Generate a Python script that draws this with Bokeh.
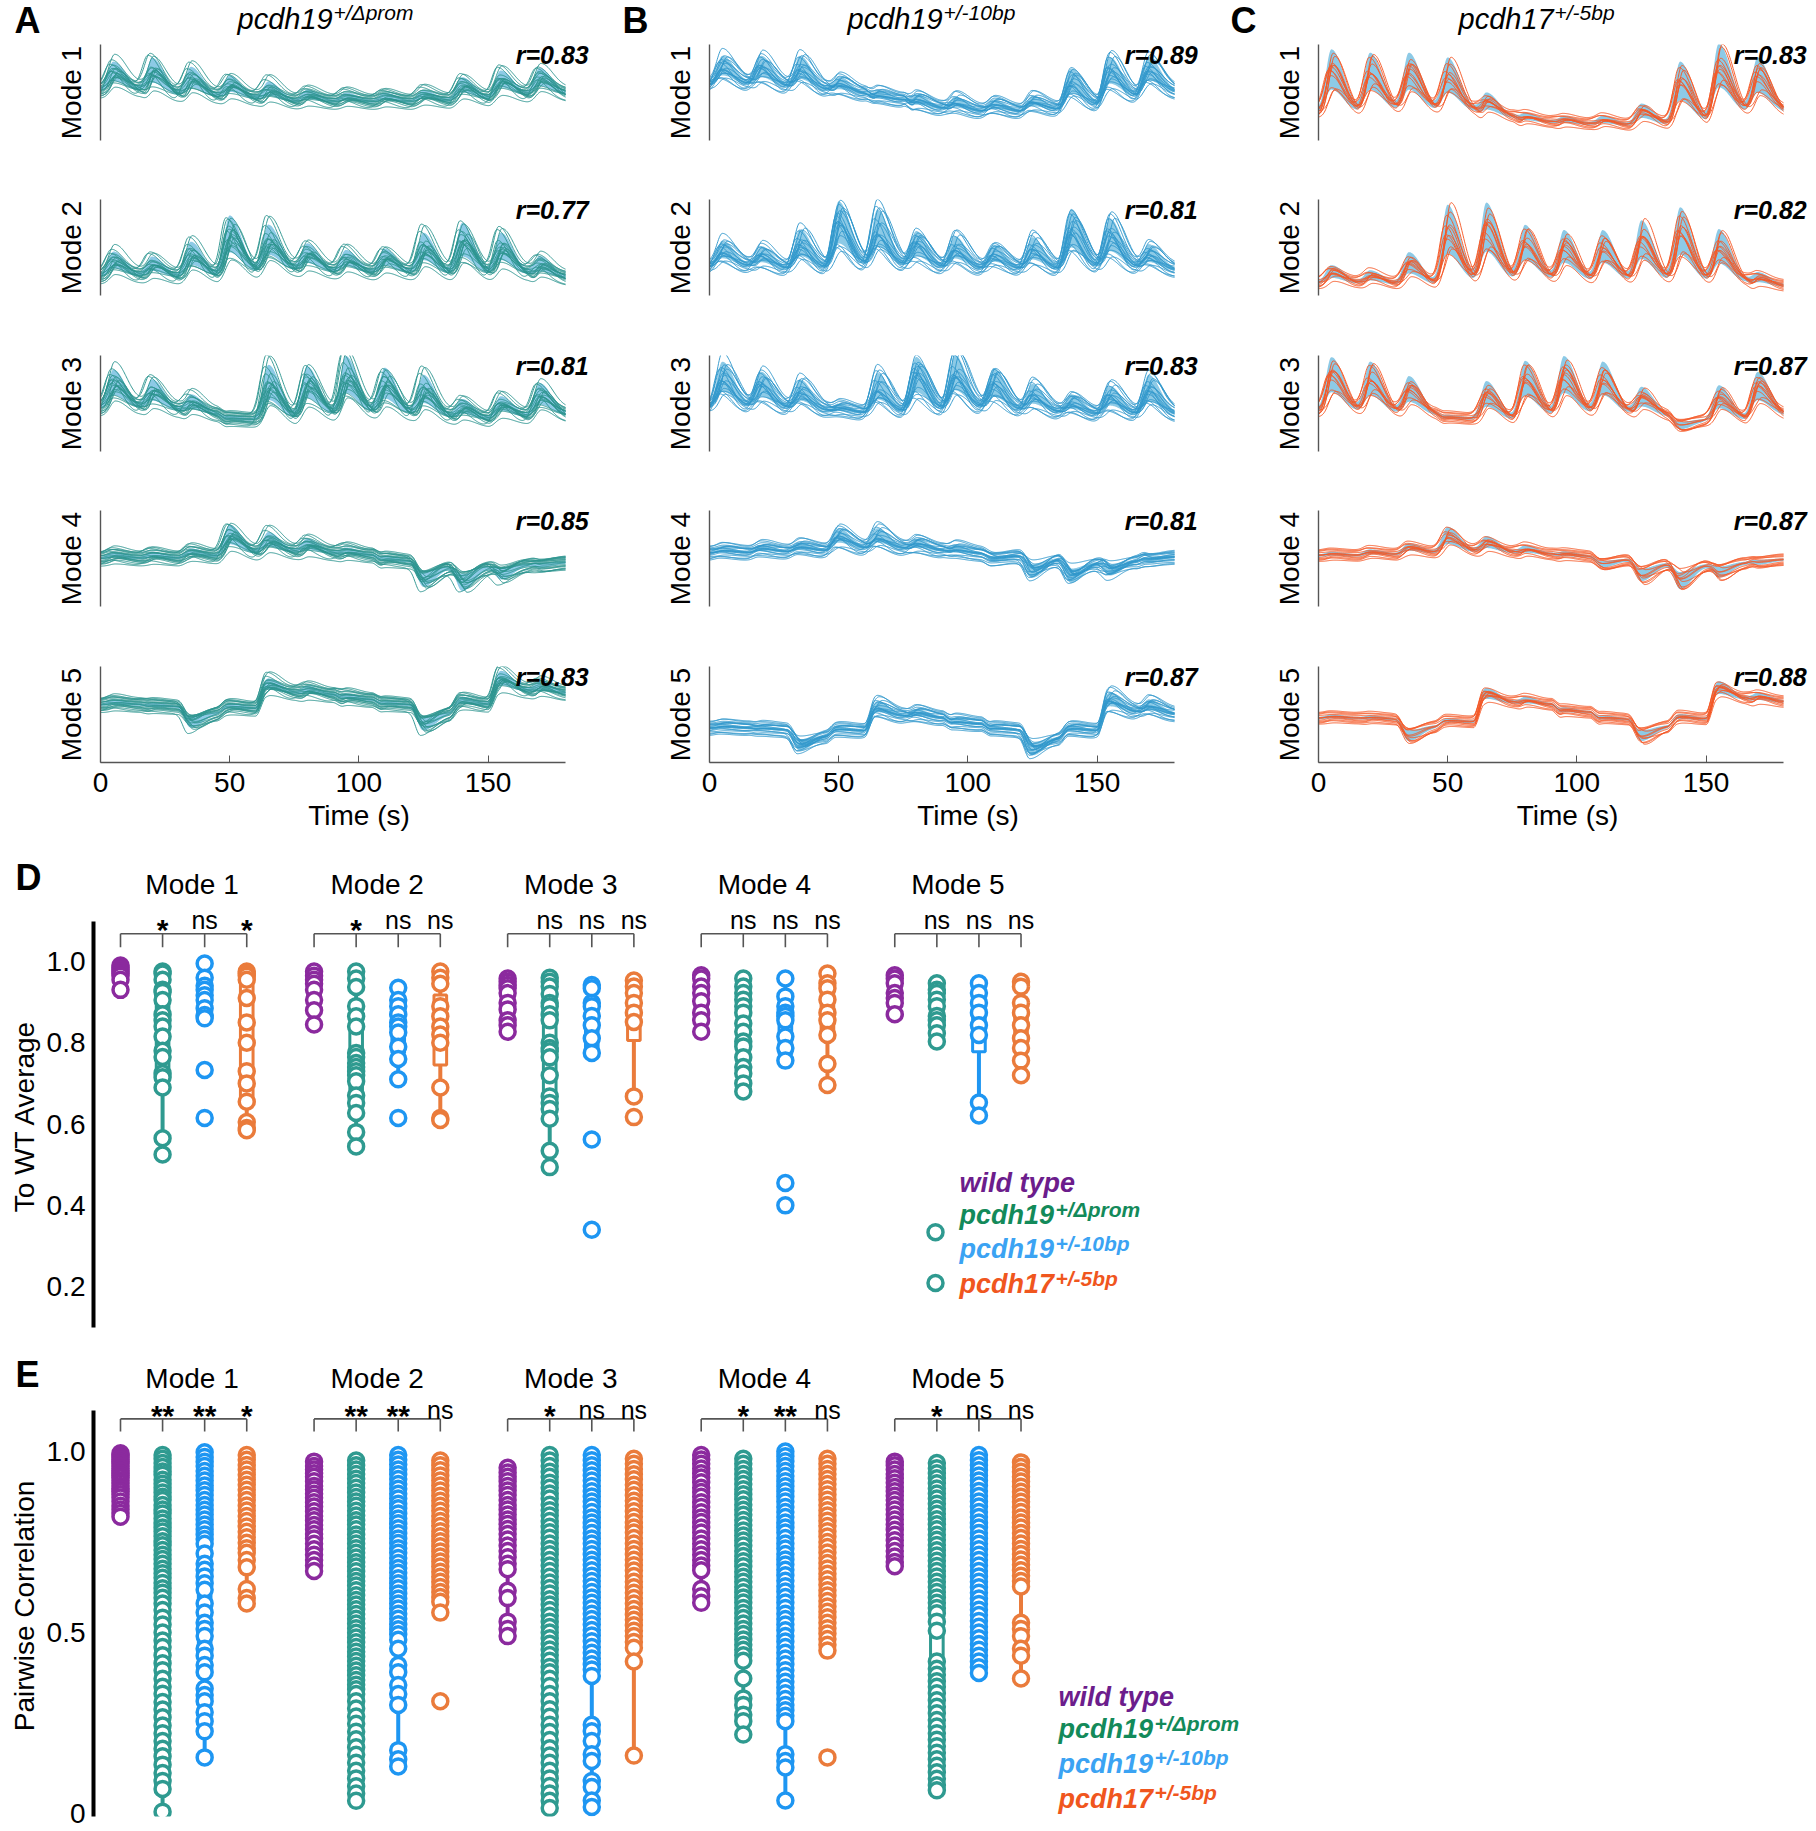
import numpy as np
from bokeh.plotting import figure
from bokeh.layouts import column, row
from bokeh.models import Label, FixedTicker, Range1d, PrintfTickFormatter
from bokeh.embed import file_html
from bokeh.resources import INLINE

FONT = "Liberation Sans"

# ================= Panels A-C : mode time courses =================
time_ticks = [0, 50, 100, 150]
stim_onsets = [0, 15, 30, 45, 60, 75, 90, 105, 120, 135, 150, 165]
mode_names = ["Mode 1", "Mode 2", "Mode 3", "Mode 4", "Mode 5"]
panel_letters = ["A", "B", "C"]
genotype_base = ["pcdh19", "pcdh19", "pcdh17"]
genotype_sup = ["+/\u0394prom", "+/-10bp", "+/-5bp"]
r_bar_A = [0.83, 0.77, 0.81, 0.85, 0.83]
r_bar_B = [0.89, 0.81, 0.83, 0.81, 0.87]
r_bar_C = [0.83, 0.82, 0.87, 0.87, 0.88]

# baseline level and response amplitude at each stimulus (fraction of axis height)
level_A = [
    [0.52, 0.47, 0.45, 0.43, 0.40, 0.40, 0.40, 0.40, 0.41, 0.43, 0.47, 0.48],
    [0.20, 0.19, 0.20, 0.24, 0.26, 0.24, 0.23, 0.23, 0.22, 0.22, 0.22, 0.18],
    [0.45, 0.42, 0.38, 0.33, 0.34, 0.38, 0.40, 0.38, 0.35, 0.33, 0.36, 0.38],
    [0.50, 0.50, 0.52, 0.55, 0.56, 0.55, 0.53, 0.47, 0.42, 0.42, 0.44, 0.46],
    [0.60, 0.58, 0.52, 0.56, 0.72, 0.70, 0.65, 0.60, 0.52, 0.60, 0.74, 0.72],
]
amp_A = [
    [0.20, 0.26, 0.21, 0.16, 0.14, 0.08, 0.06, 0.06, 0.07, 0.15, 0.17, 0.18],
    [0.17, 0.14, 0.24, 0.40, 0.32, 0.20, 0.16, 0.17, 0.29, 0.36, 0.29, 0.15],
    [0.27, 0.22, 0.14, 0.02, 0.38, 0.34, 0.40, 0.33, 0.30, 0.14, 0.14, 0.22],
    [0.04, 0.04, 0.05, 0.20, 0.14, 0.10, 0.05, 0.03, -0.14, -0.17, -0.10, -0.03],
    [0.03, 0.02, -0.10, 0.03, 0.10, 0.06, 0.04, 0.02, -0.12, 0.05, 0.14, 0.08],
]
level_B = [
    [0.58, 0.55, 0.52, 0.48, 0.42, 0.33, 0.30, 0.30, 0.32, 0.36, 0.45, 0.50],
    [0.30, 0.27, 0.27, 0.30, 0.30, 0.28, 0.27, 0.27, 0.26, 0.28, 0.28, 0.26],
    [0.46, 0.44, 0.42, 0.40, 0.40, 0.42, 0.44, 0.42, 0.40, 0.38, 0.38, 0.38],
    [0.56, 0.57, 0.58, 0.60, 0.60, 0.58, 0.55, 0.53, 0.50, 0.46, 0.48, 0.52],
    [0.36, 0.34, 0.28, 0.33, 0.48, 0.46, 0.40, 0.34, 0.26, 0.33, 0.52, 0.50],
]
amp_B = [
    [0.20, 0.22, 0.24, 0.12, 0.06, 0.10, 0.10, 0.08, 0.09, 0.26, 0.28, 0.25],
    [0.18, 0.16, 0.28, 0.46, 0.40, 0.26, 0.23, 0.17, 0.23, 0.42, 0.35, 0.18],
    [0.32, 0.26, 0.22, 0.06, 0.28, 0.38, 0.38, 0.30, 0.20, 0.14, 0.20, 0.28],
    [0.03, 0.04, 0.05, 0.14, 0.14, 0.08, 0.05, -0.03, -0.13, -0.14, -0.10, -0.03],
    [0.02, 0.02, -0.10, 0.02, 0.10, 0.06, 0.03, 0.02, -0.12, 0.03, 0.14, 0.10],
]
level_C = [
    [0.30, 0.32, 0.32, 0.30, 0.24, 0.19, 0.17, 0.16, 0.17, 0.20, 0.30, 0.30],
    [0.13, 0.12, 0.12, 0.15, 0.17, 0.17, 0.16, 0.16, 0.16, 0.15, 0.14, 0.10],
    [0.42, 0.40, 0.38, 0.34, 0.33, 0.38, 0.40, 0.40, 0.37, 0.33, 0.33, 0.38],
    [0.53, 0.54, 0.56, 0.57, 0.56, 0.54, 0.52, 0.49, 0.45, 0.44, 0.46, 0.49],
    [0.46, 0.45, 0.38, 0.42, 0.62, 0.60, 0.52, 0.45, 0.38, 0.45, 0.66, 0.63],
]
amp_C = [
    [0.44, 0.40, 0.40, 0.38, 0.17, 0.06, 0.05, 0.06, 0.14, 0.42, 0.48, 0.38],
    [0.12, 0.09, 0.22, 0.54, 0.54, 0.38, 0.35, 0.35, 0.42, 0.52, 0.37, 0.09],
    [0.38, 0.36, 0.27, 0.02, 0.27, 0.38, 0.40, 0.36, 0.20, -0.06, 0.24, 0.30],
    [0.02, 0.03, 0.06, 0.17, 0.11, 0.06, 0.03, -0.05, -0.12, -0.17, -0.10, -0.03],
    [0.02, 0.02, -0.10, 0.02, 0.10, 0.05, 0.03, 0.02, -0.10, 0.03, 0.12, 0.06],
]

# individual fish: response gain, latency shift (s), baseline offset
gain_A = [0.4, 1.2, 0.75, 1.4, 0.9, 1.05, 0.55, 1.3, 0.95, 0.7, 1.45, 1.1, 0.85, 1.35, 0.6, 1.0, 1.2, 0.5, 1.25, 0.8]
lag_A = [0.0, 1.2, -0.9, 0.5, 1.8, -0.5, 0.8, -1.5, 0.3, 0.0, -0.8, 1.0, 1.5, -1.2, 0.6, -0.3, 0.9, -0.6, 2.0, 0.2]
offset_A = [0.0, -0.06, 0.04, 0.07, -0.03, 0.02, -0.08, 0.05, -0.02, 0.03, 0.06, -0.04, 0.0, -0.07, 0.03, 0.05, -0.03, 0.01, -0.05, 0.06]
gain_B = [0.4, 1.25, 0.8, 1.45, 1.0, 1.15, 0.6, 1.35, 0.9, 0.5, 1.4, 1.05, 0.75, 1.3, 1.0, 0.85, 1.2, 0.65]
lag_B = [0.3, -1.0, 1.3, 0.0, -0.5, 1.6, -1.4, 0.7, 0.0, 1.0, -0.6, 0.4, -0.9, 1.9, -0.3, 0.9, -1.3, 0.6]
offset_B = [0.04, -0.07, 0.0, 0.06, -0.03, 0.03, -0.06, 0.07, 0.0, -0.04, 0.01, 0.05, -0.08, 0.03, -0.01, 0.04, -0.03, 0.0]
gain_C = [0.5, 1.35, 0.8, 1.0, 1.45, 0.9, 1.2, 0.6, 1.1, 1.3, 0.95, 0.7]
lag_C = [0.0, 0.9, -0.7, 0.4, 1.3, -1.1, 0.3, 1.7, -0.4, 0.7, -0.2, 1.1]
offset_C = [0.03, -0.04, 0.05, 0.0, -0.03, 0.04, -0.05, 0.01, 0.06, -0.02, 0.0, -0.06]
peak_mix = [1.0, 0.85, 1.1, 0.92, 1.05, 0.88, 1.1, 0.95, 1.04, 0.86, 1.08, 0.9, 1.0]

trace_colors = ["#2e9690", "#3399cc", "#f45a28"]
band_color = "#8dcae6"

# ================= Panels D-E : correlation strip plots =================
geno_colors = ["#8b2a9e", "#2f9a90", "#1e96f2", "#ea7b3b"]
legend_colors = ["#6c1d8c", "#138a5a", "#3ba3f3", "#f0561e"]
legend_base = ["wild type", "pcdh19", "pcdh19", "pcdh17"]
legend_sup = ["", "+/\u0394prom", "+/-10bp", "+/-5bp"]
sig_D = [["*", "ns", "*"], ["*", "ns", "ns"], ["ns", "ns", "ns"], ["ns", "ns", "ns"], ["ns", "ns", "ns"]]
sig_E = [["**", "**", "*"], ["**", "**", "ns"], ["*", "ns", "ns"], ["*", "**", "ns"], ["*", "ns", "ns"]]
D_ticks = [0.2, 0.4, 0.6, 0.8, 1.0]
E_ticks = [0, 0.5, 1.0]

# D: correlation to WT average (per fish), modes 1..5
D_WT = [
    [0.99, 0.985, 0.98, 0.975, 0.97, 0.965, 0.955, 0.93],
    [0.975, 0.965, 0.955, 0.945, 0.93, 0.905, 0.88, 0.845],
    [0.958, 0.95, 0.942, 0.934, 0.922, 0.898, 0.882, 0.855, 0.843, 0.827],
    [0.966, 0.958, 0.938, 0.922, 0.902, 0.874, 0.855, 0.827],
    [0.966, 0.958, 0.946, 0.922, 0.91, 0.898, 0.87],
]
D_DPROM = [
    [0.975, 0.97, 0.955, 0.93, 0.925, 0.905, 0.87, 0.855, 0.84, 0.815, 0.78, 0.765, 0.725, 0.715, 0.69, 0.565, 0.525],
    [0.975, 0.958, 0.937, 0.89, 0.865, 0.84, 0.775, 0.765, 0.75, 0.74, 0.73, 0.72, 0.705, 0.67, 0.652, 0.627, 0.58, 0.545],
    [0.96, 0.95, 0.938, 0.92, 0.898, 0.89, 0.87, 0.855, 0.8, 0.787, 0.779, 0.764, 0.72, 0.668, 0.652, 0.637, 0.613, 0.534, 0.494],
    [0.958, 0.938, 0.922, 0.906, 0.89, 0.874, 0.847, 0.827, 0.803, 0.791, 0.764, 0.74, 0.724, 0.7, 0.68],
    [0.946, 0.93, 0.922, 0.906, 0.89, 0.866, 0.855, 0.843, 0.823, 0.803],
]
D_10BP = [
    [0.995, 0.96, 0.94, 0.93, 0.917, 0.905, 0.885, 0.868, 0.86, 0.733, 0.615],
    [0.935, 0.905, 0.89, 0.87, 0.85, 0.84, 0.825, 0.79, 0.76, 0.71, 0.615],
    [0.942, 0.934, 0.898, 0.89, 0.866, 0.843, 0.811, 0.775, 0.562, 0.34],
    [0.958, 0.914, 0.89, 0.874, 0.866, 0.855, 0.815, 0.787, 0.756, 0.455, 0.4],
    [0.946, 0.922, 0.898, 0.874, 0.843, 0.819, 0.653, 0.621],
]
D_5BP = [
    [0.975, 0.97, 0.965, 0.955, 0.91, 0.85, 0.80, 0.73, 0.70, 0.655, 0.605, 0.59, 0.585],
    [0.975, 0.96, 0.945, 0.89, 0.865, 0.84, 0.82, 0.80, 0.69, 0.615, 0.61],
    [0.953, 0.938, 0.922, 0.898, 0.874, 0.851, 0.668, 0.617],
    [0.97, 0.946, 0.934, 0.906, 0.874, 0.855, 0.819, 0.748, 0.696],
    [0.95, 0.938, 0.898, 0.874, 0.843, 0.811, 0.787, 0.756, 0.72],
]

# E: pairwise correlation, modes 1..5
E_WT = [
    [0.995, 0.99, 0.984, 0.978, 0.972, 0.967, 0.96, 0.953, 0.947, 0.94, 0.934, 0.928, 0.92, 0.913, 0.905, 0.897, 0.89, 0.882, 0.873, 0.862, 0.85, 0.84, 0.83, 0.82],
    [0.972, 0.96, 0.95, 0.94, 0.93, 0.918, 0.905, 0.895, 0.883, 0.872, 0.86, 0.848, 0.835, 0.822, 0.81, 0.797, 0.785, 0.772, 0.76, 0.745, 0.73, 0.715, 0.7, 0.685, 0.67],
    [0.955, 0.942, 0.93, 0.918, 0.905, 0.892, 0.88, 0.866, 0.852, 0.84, 0.826, 0.812, 0.8, 0.786, 0.772, 0.757, 0.74, 0.725, 0.708, 0.69, 0.675, 0.615, 0.595, 0.53, 0.51, 0.49],
    [0.99, 0.978, 0.966, 0.953, 0.94, 0.928, 0.915, 0.9, 0.888, 0.875, 0.86, 0.847, 0.832, 0.818, 0.805, 0.79, 0.776, 0.76, 0.745, 0.73, 0.715, 0.7, 0.685, 0.672, 0.62, 0.6, 0.582],
    [0.972, 0.962, 0.95, 0.938, 0.926, 0.914, 0.902, 0.89, 0.878, 0.866, 0.853, 0.84, 0.826, 0.812, 0.798, 0.784, 0.77, 0.755, 0.74, 0.725, 0.71, 0.695, 0.683],
]
E_DPROM = [
    [0.99, 0.98, 0.968, 0.957, 0.945, 0.936, 0.922, 0.911, 0.9, 0.887, 0.875, 0.866, 0.852, 0.84, 0.829, 0.815, 0.803, 0.79, 0.779, 0.766, 0.752, 0.741, 0.728, 0.715, 0.703, 0.69, 0.676, 0.664, 0.651, 0.637, 0.622, 0.61, 0.596, 0.58, 0.562, 0.541, 0.522, 0.5, 0.478, 0.46, 0.437, 0.415, 0.396, 0.372, 0.35, 0.331, 0.308, 0.287, 0.266, 0.243, 0.222, 0.2, 0.179, 0.158, 0.135, 0.112, 0.09, 0.068, 0.005],
    [0.975, 0.962, 0.95, 0.938, 0.925, 0.913, 0.9, 0.887, 0.874, 0.862, 0.85, 0.836, 0.823, 0.81, 0.798, 0.785, 0.771, 0.759, 0.746, 0.733, 0.72, 0.707, 0.694, 0.682, 0.669, 0.655, 0.642, 0.63, 0.617, 0.603, 0.59, 0.577, 0.564, 0.551, 0.538, 0.525, 0.512, 0.499, 0.486, 0.473, 0.46, 0.447, 0.434, 0.421, 0.408, 0.395, 0.382, 0.369, 0.356, 0.343, 0.33, 0.31, 0.29, 0.268, 0.248, 0.226, 0.205, 0.183, 0.162, 0.14, 0.118, 0.097, 0.075, 0.055, 0.035],
    [0.99, 0.975, 0.96, 0.944, 0.93, 0.914, 0.9, 0.884, 0.87, 0.853, 0.838, 0.823, 0.808, 0.792, 0.777, 0.762, 0.746, 0.731, 0.716, 0.7, 0.685, 0.67, 0.654, 0.638, 0.623, 0.608, 0.592, 0.577, 0.562, 0.546, 0.53, 0.515, 0.5, 0.484, 0.469, 0.453, 0.438, 0.422, 0.405, 0.39, 0.372, 0.352, 0.33, 0.31, 0.288, 0.267, 0.245, 0.225, 0.203, 0.18, 0.16, 0.14, 0.118, 0.097, 0.076, 0.055, 0.035, 0.015],
    [0.98, 0.966, 0.952, 0.938, 0.924, 0.91, 0.896, 0.882, 0.868, 0.853, 0.839, 0.825, 0.811, 0.797, 0.782, 0.768, 0.754, 0.74, 0.725, 0.711, 0.697, 0.683, 0.668, 0.654, 0.64, 0.626, 0.611, 0.597, 0.583, 0.568, 0.554, 0.54, 0.525, 0.51, 0.496, 0.481, 0.466, 0.452, 0.437, 0.422, 0.373, 0.318, 0.3, 0.273, 0.255, 0.218],
    [0.968, 0.954, 0.94, 0.926, 0.912, 0.898, 0.884, 0.87, 0.856, 0.842, 0.828, 0.813, 0.799, 0.785, 0.77, 0.756, 0.742, 0.727, 0.713, 0.698, 0.684, 0.67, 0.655, 0.64, 0.626, 0.612, 0.597, 0.582, 0.568, 0.553, 0.53, 0.505, 0.42, 0.4, 0.383, 0.365, 0.35, 0.332, 0.313, 0.295, 0.277, 0.258, 0.24, 0.222, 0.204, 0.186, 0.168, 0.15, 0.132, 0.114, 0.096, 0.078, 0.064],
]
E_10BP = [
    [0.998, 0.985, 0.972, 0.96, 0.946, 0.933, 0.92, 0.906, 0.893, 0.88, 0.866, 0.852, 0.839, 0.826, 0.812, 0.798, 0.785, 0.771, 0.758, 0.745, 0.718, 0.69, 0.673, 0.655, 0.636, 0.618, 0.58, 0.555, 0.527, 0.51, 0.49, 0.455, 0.436, 0.41, 0.39, 0.345, 0.327, 0.31, 0.28, 0.255, 0.227, 0.155],
    [0.99, 0.977, 0.964, 0.95, 0.937, 0.924, 0.91, 0.897, 0.883, 0.87, 0.856, 0.843, 0.829, 0.815, 0.802, 0.788, 0.774, 0.76, 0.747, 0.733, 0.72, 0.706, 0.692, 0.678, 0.665, 0.65, 0.636, 0.622, 0.608, 0.594, 0.58, 0.566, 0.552, 0.538, 0.523, 0.509, 0.495, 0.48, 0.455, 0.41, 0.39, 0.355, 0.33, 0.3, 0.175, 0.15, 0.13],
    [0.99, 0.976, 0.962, 0.948, 0.934, 0.92, 0.905, 0.89, 0.876, 0.862, 0.848, 0.833, 0.818, 0.804, 0.79, 0.775, 0.76, 0.746, 0.731, 0.716, 0.701, 0.687, 0.672, 0.657, 0.642, 0.627, 0.612, 0.597, 0.582, 0.567, 0.552, 0.537, 0.522, 0.507, 0.492, 0.476, 0.46, 0.444, 0.428, 0.412, 0.398, 0.38, 0.245, 0.227, 0.2, 0.164, 0.145, 0.09, 0.073, 0.036, 0.018],
    [1.0, 0.987, 0.973, 0.96, 0.946, 0.932, 0.918, 0.904, 0.89, 0.876, 0.862, 0.847, 0.833, 0.819, 0.804, 0.79, 0.776, 0.761, 0.746, 0.732, 0.717, 0.702, 0.688, 0.673, 0.658, 0.643, 0.628, 0.613, 0.598, 0.583, 0.568, 0.552, 0.537, 0.522, 0.506, 0.49, 0.475, 0.46, 0.444, 0.428, 0.412, 0.396, 0.38, 0.364, 0.348, 0.332, 0.316, 0.3, 0.285, 0.27, 0.255, 0.164, 0.145, 0.127, 0.036],
    [0.99, 0.976, 0.962, 0.948, 0.934, 0.92, 0.906, 0.891, 0.877, 0.862, 0.848, 0.833, 0.819, 0.804, 0.79, 0.775, 0.76, 0.745, 0.73, 0.715, 0.7, 0.685, 0.67, 0.655, 0.64, 0.625, 0.61, 0.594, 0.579, 0.563, 0.548, 0.532, 0.516, 0.5, 0.484, 0.468, 0.452, 0.436, 0.42, 0.404, 0.388],
]
E_5BP = [
    [0.99, 0.977, 0.963, 0.95, 0.936, 0.922, 0.908, 0.894, 0.88, 0.866, 0.851, 0.837, 0.822, 0.808, 0.793, 0.778, 0.763, 0.748, 0.733, 0.72, 0.70, 0.68, 0.62, 0.595, 0.58],
    [0.975, 0.962, 0.948, 0.934, 0.92, 0.906, 0.892, 0.878, 0.864, 0.85, 0.836, 0.822, 0.808, 0.794, 0.78, 0.766, 0.752, 0.738, 0.724, 0.71, 0.696, 0.682, 0.668, 0.654, 0.64, 0.626, 0.612, 0.598, 0.585, 0.555, 0.31],
    [0.98, 0.966, 0.952, 0.937, 0.923, 0.908, 0.894, 0.879, 0.864, 0.85, 0.835, 0.82, 0.805, 0.79, 0.776, 0.761, 0.746, 0.731, 0.716, 0.701, 0.686, 0.671, 0.656, 0.64, 0.625, 0.61, 0.595, 0.58, 0.565, 0.55, 0.535, 0.52, 0.505, 0.49, 0.474, 0.458, 0.42, 0.16],
    [0.98, 0.966, 0.952, 0.938, 0.924, 0.91, 0.896, 0.881, 0.867, 0.852, 0.838, 0.823, 0.809, 0.794, 0.78, 0.765, 0.75, 0.736, 0.721, 0.706, 0.692, 0.677, 0.662, 0.647, 0.632, 0.617, 0.602, 0.587, 0.572, 0.557, 0.542, 0.527, 0.512, 0.497, 0.482, 0.466, 0.45, 0.155],
    [0.97, 0.957, 0.944, 0.93, 0.917, 0.903, 0.889, 0.875, 0.861, 0.847, 0.833, 0.818, 0.804, 0.79, 0.775, 0.761, 0.746, 0.731, 0.717, 0.702, 0.687, 0.672, 0.657, 0.642, 0.627, 0.527, 0.51, 0.49, 0.455, 0.436, 0.373],
]

# ================= helpers =================
t = np.linspace(0, 180, 721)


def bump(s):
    w = np.where(s < 5.0, 3.0, 6.5)
    return np.exp(-((s - 5.0) / w) ** 2)


def baseline(lv):
    y = np.full_like(t, lv[0], dtype=float)
    for k in range(1, len(lv)):
        r = np.clip((t - stim_onsets[k]) / 4.0, 0, 1)
        y = y + (lv[k] - lv[k - 1]) * r * r * (3 - 2 * r)
    return y


def fish_trace(lv, am, g, lag, off, i):
    y = baseline(lv) + off
    for k, a in enumerate(am):
        y = y + a * g * peak_mix[(5 * i + k) % len(peak_mix)] * bump(t - stim_onsets[k] - lag)
    return y


def add_label(p, x, y, text, size, style="normal", color="black", align="left", baseline_="middle"):
    p.add_layout(Label(x=x, y=y, text=text, text_font=FONT, text_font_size=f"{size}px",
                       text_font_style=style, text_color=color, text_align=align,
                       text_baseline=baseline_))


def style_fig(p):
    p.outline_line_color = None
    p.xgrid.visible = False
    p.ygrid.visible = False
    p.background_fill_color = "white"
    p.border_fill_color = "white"
    try:
        p.frame_align = False
    except Exception:
        pass


def header_fig(W, H, x_start=0.0, x_end=None):
    # text-only strip; x in its own units, y in pixels from its top
    if x_end is None:
        x_end = W
    p = figure(width=W, height=H, x_range=Range1d(x_start, x_end), y_range=Range1d(H, 0),
               x_axis_location=None, y_axis_location=None,
               min_border_left=0, min_border_right=0, min_border_top=0, min_border_bottom=0,
               output_backend="svg", toolbar_location=None)
    style_fig(p)
    return p


# ================= build A-C =================
HEAD_H = 40
row_heights = [138, 155, 156, 155, 214]
row_top = [4, 21, 22, 21, 22]
row_bottom = [38, 38, 38, 38, 96]
col_widths = [617, 609, 590]
col_left = [100, 92, 92]
S_PER_PX = 180.0 / 465.0

levels = [level_A, level_B, level_C]
amps = [amp_A, amp_B, amp_C]
gains = [gain_A, gain_B, gain_C]
lags = [lag_A, lag_B, lag_C]
offsets = [offset_A, offset_B, offset_C]
rbars = [r_bar_A, r_bar_B, r_bar_C]

# header with panel letters and genotype titles (y = pixels from top of page)
head = header_fig(1816, HEAD_H)
letter_x = [14, 622, 1230]
title_x = [237, 847, 1458]
for c in range(3):
    add_label(head, letter_x[c], 20, panel_letters[c], 36, "bold")
    add_label(head, title_x[c], 18, genotype_base[c], 29, "italic")
    add_label(head, title_x[c] + 96, 12, genotype_sup[c], 21, "italic")

trace_rows = [head]
for r in range(5):
    figs = []
    for c in range(3):
        fw = col_widths[c] - col_left[c]
        p = figure(width=col_widths[c], height=row_heights[r], x_range=Range1d(0, fw * S_PER_PX),
                   y_range=Range1d(0, 1), min_border_left=col_left[c], min_border_right=0,
                   min_border_top=row_top[r], min_border_bottom=row_bottom[r],
                   output_backend="svg", toolbar_location=None)
        style_fig(p)
        lv, am = levels[c][r], amps[c][r]
        mean = baseline(lv)
        resp = np.zeros_like(t)
        for k, a in enumerate(am):
            resp = resp + a * bump(t - stim_onsets[k])
        mean = mean + resp
        hw = 0.012 + 0.45 * np.abs(resp)
        p.varea(x=t, y1=mean - hw, y2=mean + hw, fill_color=band_color, fill_alpha=1.0)
        ys = [fish_trace(lv, am, g, lg, off, i)
              for i, (g, lg, off) in enumerate(zip(gains[c], lags[c], offsets[c]))]
        p.multi_line(xs=[t] * len(ys), ys=ys, line_color=trace_colors[c], line_width=1.0, line_alpha=0.95)

        p.yaxis.ticker = FixedTicker(ticks=[])
        p.yaxis.major_tick_out = 0
        p.yaxis.major_tick_in = 0
        p.yaxis.minor_tick_line_color = None
        p.yaxis.axis_line_color = "#555555"
        p.yaxis.axis_line_width = 1.4
        p.yaxis.axis_label = mode_names[r]
        p.yaxis.axis_label_text_font = FONT
        p.yaxis.axis_label_text_font_size = "28px"
        p.yaxis.axis_label_text_font_style = "normal"
        p.yaxis.axis_label_text_color = "black"
        p.yaxis.axis_label_standoff = 14
        if r < 4:
            p.xaxis.visible = False
        else:
            p.xaxis.bounds = (0, 180)
            p.xaxis.ticker = FixedTicker(ticks=time_ticks)
            p.xaxis.major_tick_in = 7
            p.xaxis.major_tick_out = 0
            p.xaxis.minor_tick_line_color = None
            p.xaxis.major_tick_line_color = "#555555"
            p.xaxis.axis_line_color = "#555555"
            p.xaxis.axis_line_width = 1.4
            p.xaxis.major_label_text_font = FONT
            p.xaxis.major_label_text_font_size = "28px"
            p.xaxis.major_label_text_color = "black"
            p.xaxis.major_label_standoff = 10
            p.xaxis.axis_label = "Time (s)"
            p.xaxis.axis_label_text_font = FONT
            p.xaxis.axis_label_text_font_size = "28px"
            p.xaxis.axis_label_text_font_style = "normal"
            p.xaxis.axis_label_text_color = "black"
            p.xaxis.axis_label_standoff = 5

        add_label(p, 189, 1 - 10 / 96, f"r\u0304={rbars[c][r]:.2f}", 25, "bold italic", align="right")
        figs.append(p)
    trace_rows.append(row(*figs, spacing=0))

# ================= build D-E =================
PX_PER_UNIT = 42.08
X0_PAGE = 120
AXIS_PAGE = 93
STRIP_W = 1300
mode_label_dx = [0.2, 0.0, 0.0, 0.0, 0.0]


def col_x(g, j):
    return g * 4.6 + j


def px_to_x(px):
    return (px - X0_PAGE) / PX_PER_UNIT


def box_stats(vals):
    v = np.sort(np.asarray(vals, dtype=float))
    q1, q3 = np.percentile(v, [25, 75])
    iqr = q3 - q1
    lo = v[v >= q1 - 1.5 * iqr].min()
    hi = v[v <= q3 + 1.5 * iqr].max()
    return q1, q3, lo, hi


def strip_header(H, letter, letter_y, mode_y):
    h = header_fig(STRIP_W, H, px_to_x(0), px_to_x(STRIP_W))
    add_label(h, px_to_x(15), letter_y, letter, 36, "bold")
    for gi in range(5):
        add_label(h, col_x(gi, 1.5) + mode_label_dx[gi], mode_y, f"Mode {gi + 1}", 28, "normal", align="center")
    return h


def strip_panel(datasets, H, bottom, y0, y_axis_top, y1, ticks, ylabel, sig, g):
    fw = STRIP_W - AXIS_PAGE
    xs = px_to_x(AXIS_PAGE)
    p = figure(width=STRIP_W, height=H, x_range=Range1d(xs, xs + fw / PX_PER_UNIT), y_range=Range1d(y0, y1),
               min_border_left=AXIS_PAGE, min_border_right=0, min_border_top=0, min_border_bottom=bottom,
               output_backend="svg", toolbar_location=None)
    style_fig(p)
    vpp = (y1 - y0) / (H - bottom)  # value per pixel
    p.xaxis.visible = False
    p.yaxis.bounds = (y0, y_axis_top)
    p.yaxis.ticker = FixedTicker(ticks=ticks)
    p.yaxis.formatter = PrintfTickFormatter(format="%.1f")
    p.yaxis.major_label_overrides = {0: "0"}
    p.yaxis.major_tick_out = 0
    p.yaxis.major_tick_in = 0
    p.yaxis.minor_tick_line_color = None
    p.yaxis.axis_line_color = "black"
    p.yaxis.axis_line_width = 4
    p.yaxis.major_label_text_font = FONT
    p.yaxis.major_label_text_font_size = "28px"
    p.yaxis.major_label_text_color = "black"
    p.yaxis.major_label_standoff = 8
    p.yaxis.axis_label = ylabel
    p.yaxis.axis_label_text_font = FONT
    p.yaxis.axis_label_text_font_size = "28px"
    p.yaxis.axis_label_text_font_style = "normal"
    p.yaxis.axis_label_text_color = "black"
    p.yaxis.axis_label_standoff = 4

    for gi in range(5):
        xa = [col_x(gi, j) for j in range(4)]
        p.segment(x0=[xa[0]], y0=[g["bracket"]], x1=[xa[3]], y1=[g["bracket"]], line_color="#555555", line_width=1.6)
        p.segment(x0=xa, y0=[g["bracket"]] * 4, x1=xa, y1=[g["tick"]] * 4, line_color="#555555", line_width=1.6)
        for j in range(1, 4):
            s = sig[gi][j - 1]
            if s == "ns":
                add_label(p, xa[j], g["ns"], s, 25, "normal", align="center")
            else:
                add_label(p, xa[j], g["star"], s, 30, "bold", align="center")
        for j, ds in enumerate(datasets):
            vals = ds[gi]
            x = col_x(gi, j)
            q1, q3, lo, hi = box_stats(vals)
            p.segment(x0=[x, x], y0=[lo, q3], x1=[x, x], y1=[q1, hi], line_color=geno_colors[j], line_width=4)
            p.rect(x=[x], y=[(q1 + q3) / 2], width=0.3, height=[q3 - q1], fill_color="white",
                   line_color=geno_colors[j], line_width=3)
            p.scatter(x=[x] * len(vals), y=vals, marker="circle", size=g["size"], fill_color="white",
                      line_color=geno_colors[j], line_width=3.5)

    lx = px_to_x(g["leg_x"])
    for k in range(4):
        ly = g["leg_y"][k]
        add_label(p, lx, ly, legend_base[k], 27, "bold italic", color=legend_colors[k])
        if legend_sup[k]:
            add_label(p, lx + 96 / PX_PER_UNIT, ly + 6 * vpp, legend_sup[k], 21, "bold italic",
                      color=legend_colors[k])
    if g.get("leg_marks"):
        mx, mys = g["leg_marks"]
        p.scatter(x=[px_to_x(mx)] * len(mys), y=mys, marker="circle", size=g["size"], fill_color="white",
                  line_color=geno_colors[1], line_width=3.5)
    return p


geom_D = dict(bracket=1.068, tick=1.035, ns=1.102, star=1.0795, size=15,
              leg_x=959, leg_y=[0.454, 0.376, 0.292, 0.206], leg_marks=(935, [0.334, 0.209]))
geom_E = dict(bracket=1.090, tick=1.055, ns=1.1137, star=1.0997, size=15,
              leg_x=1058, leg_y=[0.323, 0.233, 0.137, 0.041])

headD = strip_header(46, "D", 19, 26)
pD = strip_panel([D_WT, D_DPROM, D_10BP, D_5BP], 449, 26, 0.0995, 1.097, 1.140, D_ticks,
                 "To WT Average", sig_D, geom_D)
headE = strip_header(42, "E", 21, 25)
pE = strip_panel([E_WT, E_DPROM, E_10BP, E_5BP], 435, 14, -0.0083, 1.1133, 1.1547, E_ticks,
                 "Pairwise Correlation", sig_E, geom_E)

layout = column(*trace_rows, headD, pD, headE, pE, spacing=0)
open("out.html", "w").write(file_html(layout, INLINE))
